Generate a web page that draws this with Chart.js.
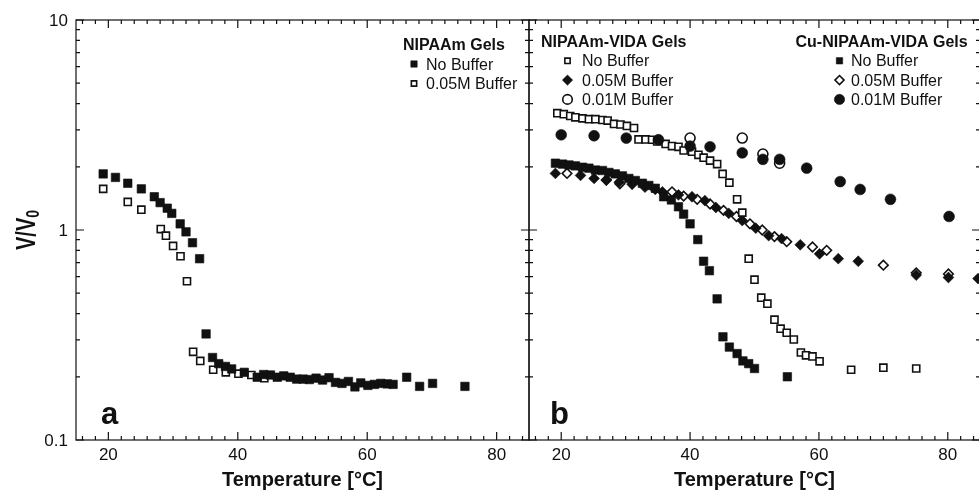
<!DOCTYPE html>
<html>
<head>
<meta charset="utf-8">
<script src="https://cdn.jsdelivr.net/npm/chart.js@4.4.0/dist/chart.umd.min.js"></script>
<style>
html, body { margin: 0; padding: 0; background: #fff; overflow: hidden; }
#wrap { position: relative; width: 979px; height: 493px; overflow: hidden; }
#chartA { position: absolute; left: 0; top: 0; }
#chartB { position: absolute; left: 520px; top: 0; }
</style>
</head>
<body>
<div id="wrap">
  <canvas id="chartA" width="540" height="493"></canvas>
  <canvas id="chartB" width="470" height="493"></canvas>
</div>
<script>
// ---- panel a : NIPAAm gels ----
var aNoBufT = [19.2, 21.1, 23.0, 25.1, 27.1, 28.0, 29.1, 29.8, 31.1, 32.0, 33.0, 34.1, 35.1, 36.1, 37.05,
  38.1, 39.05, 41.0, 43.0, 44.0, 45.05, 46.1, 47.1, 48.1, 49.1, 50.1, 51.05, 52.1, 53.1, 54.1,
  55.1, 56.1, 57.1, 58.1, 59.0, 60.1, 61.1, 62.1, 63.1, 64.0, 66.1, 68.1, 70.1, 75.1];
var aNoBufV = [1.85, 1.78, 1.67, 1.57, 1.44, 1.35, 1.27, 1.20, 1.07, 0.98, 0.87, 0.73, 0.32, 0.247, 0.231,
  0.224, 0.218, 0.210, 0.199, 0.205, 0.204, 0.199, 0.202, 0.199, 0.195, 0.195, 0.194, 0.197, 0.193, 0.198,
  0.188, 0.186, 0.190, 0.179, 0.187, 0.182, 0.184, 0.186, 0.185, 0.184, 0.199, 0.180, 0.186, 0.180];
var aBufT = [19.2, 23.0, 25.1, 28.1, 28.9, 30.0, 31.15, 32.15, 33.1, 34.2, 36.2, 38.15, 40.1, 42.1, 44.1];
var aBufV = [1.57, 1.36, 1.25, 1.01, 0.94, 0.84, 0.75, 0.57, 0.263, 0.238, 0.216, 0.210, 0.207, 0.204, 0.197];

// ---- panel b : NIPAAm-VIDA gels ----
var vNoT = [19.4, 20.4, 21.4, 22.2, 23.3, 24.3, 25.3, 26.4, 27.2, 28.2, 29.2, 30.2, 31.3, 32.0, 33.1,
  34.1, 34.9, 36.2, 37.2, 38.2, 39.0, 40.3, 41.3, 42.1, 43.1, 44.2, 45.05, 46.1, 47.3, 48.1,
  49.1, 50.0, 51.05, 52.0, 53.1, 54.05, 55.0, 56.1, 57.2, 58.0, 59.0, 60.1, 65.0, 70.0, 75.1];
var vNoV = [3.60, 3.56, 3.49, 3.44, 3.40, 3.37, 3.37, 3.34, 3.32, 3.20, 3.18, 3.13, 3.06, 2.70, 2.70,
  2.69, 2.64, 2.57, 2.51, 2.49, 2.39, 2.36, 2.28, 2.21, 2.14, 2.06, 1.85, 1.68, 1.40, 1.21,
  0.73, 0.58, 0.476, 0.446, 0.374, 0.339, 0.324, 0.301, 0.261, 0.253, 0.250, 0.237, 0.216, 0.221, 0.219];
var vMidT = [19.1, 23.0, 25.1, 27.0, 29.0, 31.0, 33.0, 34.6, 35.7, 38.2, 40.3, 42.3, 44.0, 46.0, 48.1,
  50.2, 52.2, 54.2, 57.1, 60.1, 63.0, 66.1, 75.1, 80.1, 84.7];
var vMidV = [1.86, 1.82, 1.76, 1.73, 1.69, 1.65, 1.60, 1.56, 1.52, 1.47, 1.44, 1.38, 1.28, 1.20, 1.11,
  1.02, 0.94, 0.91, 0.85, 0.77, 0.73, 0.71, 0.61, 0.594, 0.587];
var vHiT = [40.0, 48.1, 51.3, 53.9];
var vHiV = [2.74, 2.74, 2.30, 2.08];

// ---- panel b : Cu-NIPAAm-VIDA gels ----
var cNoT = [19.1, 20.2, 21.2, 22.2, 23.3, 24.3, 25.3, 26.4, 27.4, 28.4, 29.5, 30.5, 31.5, 32.6, 33.6, 34.6,
  35.9, 37.1, 38.2, 39.0, 40.0, 41.2, 42.1, 43.0, 44.2, 45.1, 46.1, 47.3, 48.2, 49.1, 50.0, 55.1];
var cNoV = [2.08, 2.06, 2.04, 2.02, 1.99, 1.97, 1.93, 1.92, 1.88, 1.85, 1.81, 1.76, 1.72, 1.67, 1.63, 1.58,
  1.44, 1.39, 1.29, 1.19, 1.07, 0.90, 0.71, 0.64, 0.47, 0.31, 0.277, 0.258, 0.238, 0.231, 0.219, 0.200];
var cMidT = [20.9, 27.0, 29.1, 37.2, 39.0, 41.1, 43.1, 45.2, 47.2, 49.3, 51.2, 53.1, 55.0, 59.0, 61.2, 70.0, 75.1, 80.1];
var cMidV = [1.86, 1.73, 1.66, 1.52, 1.45, 1.40, 1.33, 1.24, 1.16, 1.07, 1.00, 0.93, 0.88, 0.83, 0.80, 0.68, 0.625, 0.617];
var cHiT = [20.0, 25.1, 30.1, 35.1, 40.0, 43.1, 48.1, 51.3, 53.9, 58.1, 63.3, 66.4, 71.1, 80.2];
var cHiV = [2.84, 2.81, 2.74, 2.69, 2.51, 2.49, 2.33, 2.17, 2.17, 1.97, 1.70, 1.56, 1.40, 1.16];

// ---- axes ----
var xTicks = [20, 40, 60, 80];
var xTickLabels = ['20', '40', '60', '80'];
var yTicks = [0.1, 1, 10];
var yTickLabels = ['0.1', '1', '10'];
var yMinor = [0.2, 0.3, 0.4, 0.5, 0.6, 0.7, 0.8, 0.9, 2, 3, 4, 5, 6, 7, 8, 9];
var xMinor = [];
for (var t = 16; t <= 84; t += 2) { if (xTicks.indexOf(t) < 0) xMinor.push(t); }

var FONT = '"Liberation Sans", Arial, Helvetica, sans-serif';
var INK = '#111';

function pts(xs, ys) {
  return xs.map(function (x, i) { return { x: x, y: ys[i] }; });
}

function series(label, xs, ys, style, filled, r) {
  return {
    label: label,
    data: pts(xs, ys),
    showLine: false,
    pointStyle: style,
    pointRadius: r,
    pointHoverRadius: r,
    pointBorderWidth: filled ? 0.6 : 1.6,
    pointBackgroundColor: filled ? INK : '#fff',
    pointBorderColor: INK
  };
}

function marker(ctx, ds, x, y) {
  ctx.fillStyle = ds.pointBackgroundColor;
  ctx.strokeStyle = ds.pointBorderColor;
  ctx.lineWidth = ds.pointBorderWidth;
  var r = ds.pointStyle == 'rect' ? ds.pointRadius * 0.75 : ds.pointRadius * 0.95;
  Chart.helpers.drawPoint(ctx, { pointStyle: ds.pointStyle, radius: r, rotation: 0, borderWidth: ds.pointBorderWidth }, x, y);
}

// frame, inward ticks, labels, legends
var framePlugin = {
  id: 'frame',
  afterDraw: function (chart, args, opts) {
    var ctx = chart.ctx;
    var a = chart.chartArea;
    var xs = chart.scales.x, ys = chart.scales.y;
    ctx.save();
    ctx.strokeStyle = INK;
    ctx.lineWidth = 1.2;
    ctx.strokeRect(a.left, a.top, a.right - a.left, a.bottom - a.top);

    ctx.beginPath();
    function xt(v, len) {
      var p = xs.getPixelForValue(v);
      ctx.moveTo(p, a.bottom); ctx.lineTo(p, a.bottom - len);
      ctx.moveTo(p, a.top); ctx.lineTo(p, a.top + len);
    }
    function yt(v, len) {
      var p = ys.getPixelForValue(v);
      ctx.moveTo(a.left, p); ctx.lineTo(a.left + len, p);
      ctx.moveTo(a.right, p); ctx.lineTo(a.right - len, p);
    }
    xMinor.forEach(function (v) { xt(v, 4); });
    xTicks.forEach(function (v) { xt(v, 8); });
    yMinor.forEach(function (v) { yt(v, 4); });
    yTicks.forEach(function (v) { yt(v, 8); });
    ctx.stroke();

    ctx.fillStyle = INK;
    ctx.font = '17px ' + FONT;
    ctx.textAlign = 'center';
    ctx.textBaseline = 'alphabetic';
    xTicks.forEach(function (v, i) {
      ctx.fillText(xTickLabels[i], xs.getPixelForValue(v), 460);
    });
    ctx.font = 'bold 20px ' + FONT;
    ctx.fillText('Temperature [°C]', (a.left + a.right) / 2, 486);

    if (opts.yAxis) {
      ctx.font = '17px ' + FONT;
      ctx.textAlign = 'right';
      yTicks.forEach(function (v, i) {
        ctx.fillText(yTickLabels[i], a.left - 8, ys.getPixelForValue(v) + 6);
      });
      // V/V0 with subscript, rotated
      ctx.save();
      ctx.translate(35, ys.getPixelForValue(1));
      ctx.rotate(-Math.PI / 2);
      ctx.scale(1, 1.35);
      ctx.font = 'bold 20px ' + FONT;
      var w1 = ctx.measureText('V/V').width;
      ctx.font = 'bold 14px ' + FONT;
      var w2 = ctx.measureText('0').width;
      var x0 = -(w1 + w2) / 2;
      ctx.textAlign = 'left';
      ctx.font = 'bold 20px ' + FONT;
      ctx.fillText('V/V', x0, 0);
      ctx.font = 'bold 14px ' + FONT;
      ctx.fillText('0', x0 + w1, 3);
      ctx.restore();
    }

    ctx.font = 'bold 31px ' + FONT;
    ctx.textAlign = 'left';
    ctx.fillText(opts.panel, a.left + opts.panelDx, 424);

    (opts.legends || []).forEach(function (lg) {
      ctx.font = 'bold 16px ' + FONT;
      ctx.textAlign = 'left';
      ctx.fillStyle = INK;
      ctx.fillText(lg.title, lg.x, lg.y);
      lg.sets.forEach(function (k, i) {
        var ds = chart.data.datasets[k];
        var yy = lg.y + lg.dy * (i + 1);
        ctx.save();
        marker(ctx, ds, lg.mx, yy - 5.5);
        ctx.restore();
        ctx.fillStyle = INK;
        ctx.font = '16px ' + FONT;
        ctx.fillText(ds.label, lg.tx, yy);
      });
    });
    ctx.restore();
  }
};

function baseOptions(pad, frame) {
  return {
    responsive: false,
    animation: false,
    events: [],
    layout: { padding: pad },
    scales: {
      x: { type: 'linear', min: 15, max: 85, display: false },
      y: { type: 'logarithmic', min: 0.1, max: 10, display: false }
    },
    plugins: { legend: { display: false }, tooltip: { enabled: false }, frame: frame }
  };
}

new Chart(document.getElementById('chartA'), {
  type: 'scatter',
  data: {
    datasets: [
      series('No Buffer', aNoBufT, aNoBufV, 'rect', true, 6),
      series('0.05M Buffer', aBufT, aBufV, 'rect', false, 5)
    ]
  },
  options: baseOptions({ left: 76, right: 11, top: 20, bottom: 53 }, {
    yAxis: true, panel: 'a', panelDx: 25,
    legends: [{ title: 'NIPAAm Gels', x: 403, y: 50, dy: 19.5, mx: 414, tx: 426, sets: [0, 1] }]
  }),
  plugins: [framePlugin]
});

new Chart(document.getElementById('chartB'), {
  type: 'scatter',
  data: {
    datasets: [
      series('0.01M Buffer', cHiT, cHiV, 'circle', true, 5.4),
      series('0.01M Buffer', vHiT, vHiV, 'circle', false, 5),
      series('No Buffer', cNoT, cNoV, 'rect', true, 6),
      series('No Buffer', vNoT, vNoV, 'rect', false, 5),
      series('0.05M Buffer', vMidT, vMidV, 'rectRot', true, 5.4),
      series('0.05M Buffer', cMidT, cMidV, 'rectRot', false, 4.8)
    ]
  },
  options: baseOptions({ left: 9, right: 10, top: 20, bottom: 53 }, {
    yAxis: false, panel: 'b', panelDx: 21,
    legends: [
      { title: 'NIPAAm-VIDA Gels', x: 21, y: 47, dy: 19.3, mx: 47.5, tx: 62, sets: [3, 4, 1] },
      { title: 'Cu-NIPAAm-VIDA Gels', x: 275.5, y: 47, dy: 19.3, mx: 319.5, tx: 331, sets: [2, 5, 0] }
    ]
  }),
  plugins: [framePlugin]
});
</script>
</body>
</html>
